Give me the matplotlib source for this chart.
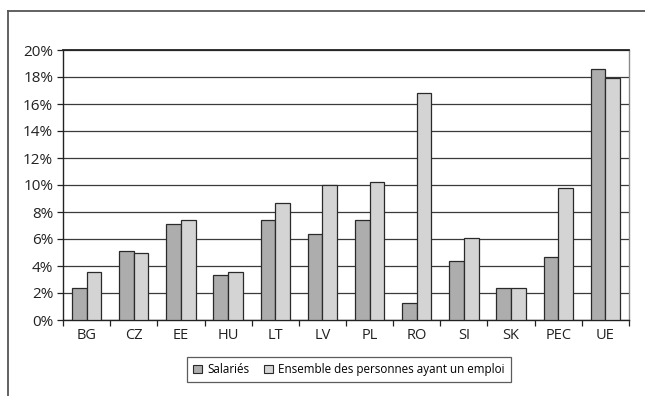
import numpy as np
import matplotlib
matplotlib.use('Agg')
import matplotlib.pyplot as plt
from matplotlib.patches import Rectangle
from matplotlib.lines import Line2D

plt.rcParams['font.family'] = ['Open Sans', 'DejaVu Sans']

countries = ["BG", "CZ", "EE", "HU", "LT", "LV", "PL", "RO", "SI", "SK", "PEC", "UE"]
salaries = [2.4, 5.1, 7.1, 3.3, 7.4, 6.4, 7.4, 1.25, 4.4, 2.4, 4.7, 18.6]
ensemble = [3.55, 5.0, 7.4, 3.55, 8.7, 10.0, 10.25, 16.8, 6.1, 2.4, 9.8, 17.9]
yticks = [0, 2, 4, 6, 8, 10, 12, 14, 16, 18, 20]

c_dark = '#adadad'
c_light = '#d4d4d4'
edge = '#2a2a2a'

fig = plt.figure(figsize=(6.45, 3.96), dpi=100)
ax = fig.add_axes([63 / 645, 1 - 320 / 396, (629 - 63) / 645, (320 - 50) / 396])

x = np.arange(len(countries))
w = 0.31
ax.bar(x - w / 2, salaries, w, color=c_dark, edgecolor=edge, linewidth=0.9, zorder=3)
ax.bar(x + w / 2, ensemble, w, color=c_light, edgecolor=edge, linewidth=0.9, zorder=3)

ax.set_xlim(-0.5, len(countries) - 0.5)
ax.set_ylim(0, 20)
ax.set_yticks(yticks)
ax.set_yticklabels(["%d%%" % v for v in yticks], fontsize=11, color='#222222')
ax.yaxis.grid(True, color='#3a3a3a', linewidth=0.9, zorder=0)
ax.set_axisbelow(True)

ax.set_xticks(x)
ax.set_xticklabels(countries, fontsize=10.5, color='#222222')
ax.tick_params(axis='x', length=0, pad=6)
ax.set_xticks(np.arange(len(countries) + 1) - 0.5, minor=True)
ax.tick_params(axis='x', which='minor', length=4, width=0.9, color='#222222')
ax.tick_params(axis='y', length=4, width=0.9, color='#222222', pad=3)

ax.spines['left'].set_color('#222222')
ax.spines['bottom'].set_color('#222222')
ax.spines['top'].set_color('#222222')
ax.spines['top'].set_linewidth(1.3)
ax.spines['right'].set_color('#8a8a8a')
for s in ['left', 'bottom', 'right']:
    ax.spines[s].set_linewidth(1.0)

# outer chart frame (top and left visible)
fig.add_artist(Line2D([8 / 645, 1.0], [1 - 11 / 396, 1 - 11 / 396], color='#555555', linewidth=1.3))
fig.add_artist(Line2D([8 / 645, 8 / 645], [1 - 11 / 396, 0.0], color='#555555', linewidth=1.3))

handles = [Rectangle((0, 0), 1, 1, facecolor=c_dark, edgecolor=edge, linewidth=0.8),
           Rectangle((0, 0), 1, 1, facecolor=c_light, edgecolor=edge, linewidth=0.8)]
leg = fig.legend(handles, ["Salariés", "Ensemble des personnes ayant un emploi"],
                 loc='center', bbox_to_anchor=(349 / 645, 1 - 369.5 / 396), ncol=2,
                 fontsize=8.4, frameon=True, fancybox=False, handlelength=0.75, handleheight=0.75,
                 handletextpad=0.45, columnspacing=1.3, borderpad=0.5)
leg.get_frame().set_edgecolor('#333333')
leg.get_frame().set_linewidth(0.9)

fig.savefig("out.png", dpi=100)
